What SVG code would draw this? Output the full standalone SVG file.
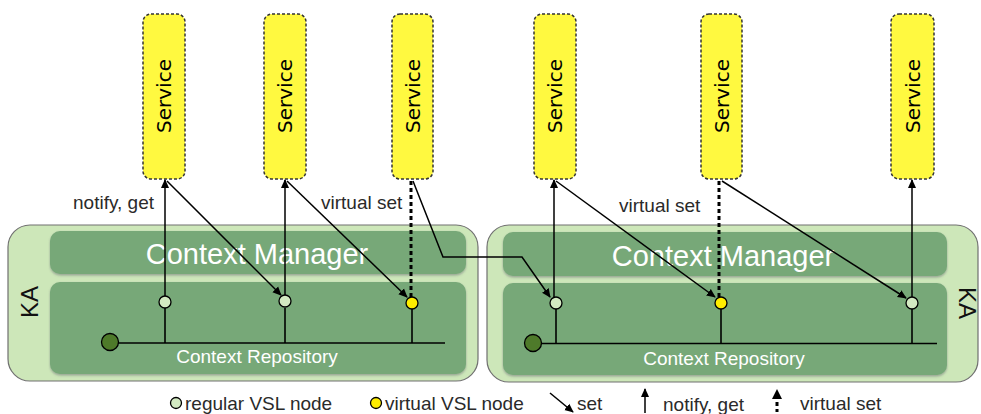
<svg xmlns="http://www.w3.org/2000/svg" width="981" height="414" viewBox="0 0 981 414">
<style>
.ka{fill:#cde7b9;stroke:#707070;stroke-width:1.2}
.bar{fill:#77a878;filter:url(#sh)}
.svc{fill:#fff940;stroke:#333;stroke-width:1.5;stroke-dasharray:3 2}
.svct{font-family:"DejaVu Sans",sans-serif;font-size:20px;fill:#000;text-anchor:middle}
.cm{font-family:"Liberation Sans",Arial,sans-serif;font-size:29px;fill:#fff;text-anchor:middle}
.cr{font-family:"Liberation Sans",Arial,sans-serif;font-size:19px;fill:#fff;text-anchor:middle}
.lbl{font-family:"Liberation Sans",Arial,sans-serif;font-size:19px;fill:#2a2a2a}
.kat{font-family:"Liberation Sans",Arial,sans-serif;font-size:24px;fill:#111;text-anchor:middle}
.ln{fill:none;stroke:#000;stroke-width:1.6}
.arr{fill:none;stroke:#000;stroke-width:1.5;marker-end:url(#ah)}
.dash{fill:none;stroke:#000;stroke-width:3;stroke-dasharray:4 3}
.rn{fill:#d3eac2;stroke:#000;stroke-width:1.3}
.vn{fill:#ffee00;stroke:#000;stroke-width:1.3}
.dn{fill:#4e7a2a;stroke:#000;stroke-width:1.3}
</style>
<defs>
<marker id="ah" viewBox="0 0 10 10" refX="9" refY="5" markerWidth="9" markerHeight="9" markerUnits="userSpaceOnUse" orient="auto">
<path d="M0,0.5 L10,5 L0,9.5 z" fill="#000"/>
</marker>
<filter id="sh" x="-5%" y="-10%" width="110%" height="125%">
<feDropShadow dx="0" dy="1.5" stdDeviation="1.2" flood-color="#556" flood-opacity="0.45"/>
</filter>
</defs>

<g id="ka-left">
<rect class="ka" x="8" y="225" width="470" height="156" rx="22"/>
<text class="kat" transform="translate(38,302) rotate(-90)">KA</text>
</g>
<g id="cm-left">
<rect class="bar" x="50" y="231" width="416" height="43" rx="10"/>
<text class="cm" x="257" y="264">Context Manager</text>
</g>
<g id="cr-left">
<rect class="bar" x="50" y="282" width="416" height="92" rx="10"/>
<text class="cr" x="257" y="363">Context Repository</text>
</g>

<g id="ka-right">
<rect class="ka" x="487" y="225" width="491" height="157" rx="22"/>
<text class="kat" transform="translate(959,303) rotate(90)">KA</text>
</g>
<g id="cm-right">
<rect class="bar" x="503" y="232" width="444" height="44" rx="10"/>
<text class="cm" x="723" y="266">Context Manager</text>
</g>
<g id="cr-right">
<rect class="bar" x="503" y="283" width="444" height="92" rx="10"/>
<text class="cr" x="724" y="365">Context Repository</text>
</g>

<g id="svc1"><rect class="svc" x="143" y="14" width="42" height="165" rx="8"/><text class="svct" transform="translate(171,96) rotate(-90)">Service</text></g>
<g id="svc2"><rect class="svc" x="264" y="14" width="42" height="165" rx="8"/><text class="svct" transform="translate(292,96) rotate(-90)">Service</text></g>
<g id="svc3"><rect class="svc" x="392" y="14" width="41" height="165" rx="8"/><text class="svct" transform="translate(420,96) rotate(-90)">Service</text></g>
<g id="svc4"><rect class="svc" x="534" y="14" width="42" height="165" rx="8"/><text class="svct" transform="translate(562,96) rotate(-90)">Service</text></g>
<g id="svc5"><rect class="svc" x="701" y="14" width="41" height="165" rx="8"/><text class="svct" transform="translate(729,96) rotate(-90)">Service</text></g>
<g id="svc6"><rect class="svc" x="891" y="14" width="43" height="165" rx="8"/><text class="svct" transform="translate(920,96) rotate(-90)">Service</text></g>

<g id="connectors">
<line class="ln" x1="110" y1="343" x2="445" y2="343"/>
<line class="ln" x1="165" y1="308" x2="165" y2="343"/>
<line class="ln" x1="285" y1="308" x2="285" y2="343"/>
<line class="ln" x1="412" y1="308" x2="412" y2="343"/>
<line class="ln" x1="533" y1="343.5" x2="937" y2="343.5"/>
<line class="ln" x1="556" y1="309" x2="556" y2="343.5"/>
<line class="ln" x1="721" y1="309" x2="721" y2="343.5"/>
<line class="ln" x1="912" y1="309" x2="912" y2="343.5"/>
<line class="arr" x1="165" y1="296" x2="165" y2="180"/>
<line class="arr" x1="167" y1="181" x2="281" y2="295"/>
<line class="arr" x1="285" y1="296" x2="285" y2="180"/>
<line class="arr" x1="287" y1="181" x2="407" y2="297"/>
<line class="dash" x1="411" y1="181" x2="411" y2="297"/>
<polyline class="arr" points="413,181 443,257 522,257 550,297"/>
<line class="arr" x1="554" y1="297" x2="554" y2="180"/>
<line class="arr" x1="556" y1="181" x2="715" y2="297"/>
<line class="dash" x1="719" y1="181" x2="719" y2="297"/>
<line class="arr" x1="722" y1="181" x2="906" y2="298"/>
<line class="arr" x1="912" y1="297" x2="912" y2="180"/>
</g>

<g id="nodes-left">
<circle class="dn" cx="110" cy="342" r="8.5"/>
<circle class="rn" cx="165" cy="302" r="6"/>
<circle class="rn" cx="285" cy="301" r="6"/>
<circle class="vn" cx="412" cy="303" r="6"/>
</g>
<g id="nodes-right">
<circle class="dn" cx="533" cy="343" r="8.5"/>
<circle class="rn" cx="556" cy="303" r="6"/>
<circle class="vn" cx="721" cy="303" r="6"/>
<circle class="rn" cx="912" cy="303" r="6"/>
</g>

<g id="labels">
<text class="lbl" x="73" y="209">notify, get</text>
<text class="lbl" x="321" y="209">virtual set</text>
<text class="lbl" x="619" y="212">virtual set</text>
</g>

<g id="legend">
<circle class="rn" cx="176" cy="403" r="5.5"/>
<text class="lbl" x="185" y="410">regular VSL node</text>
<circle class="vn" cx="376" cy="403" r="5.5"/>
<text class="lbl" x="385" y="410">virtual VSL node</text>
<line class="arr" x1="550" y1="393" x2="573" y2="412"/>
<text class="lbl" x="577" y="410">set</text>
<line class="arr" x1="645" y1="413" x2="645" y2="389"/>
<text class="lbl" x="663" y="411">notify, get</text>
<path d="M772,399 L777,389 L782,399 z" fill="#000"/>
<line x1="777" y1="402" x2="777" y2="412" stroke="#000" stroke-width="3" stroke-dasharray="4 3"/>
<text class="lbl" x="800" y="410">virtual set</text>
</g>
</svg>
